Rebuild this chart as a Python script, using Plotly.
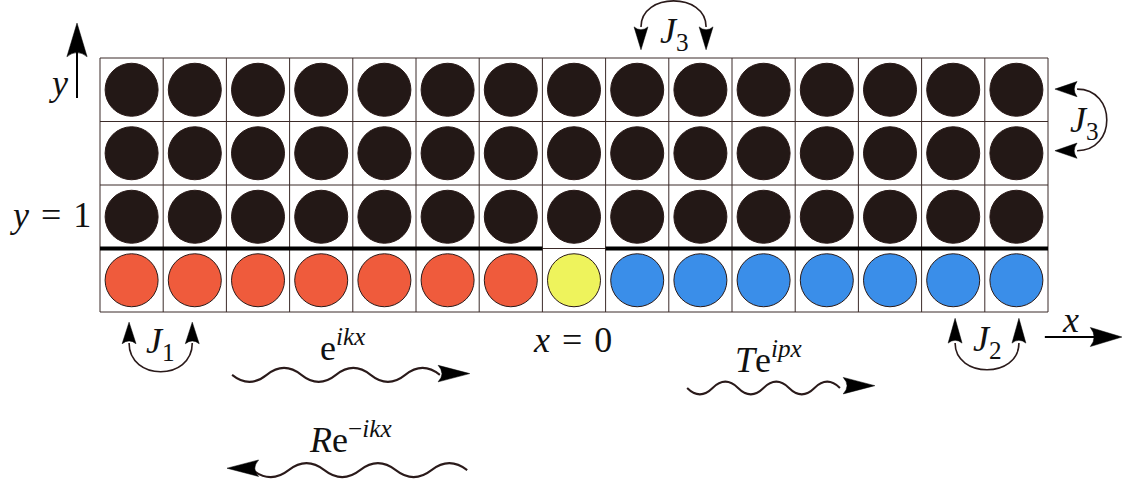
import plotly.graph_objects as go

# ---------------- data ----------------
n_cols = 15
n_rows = 4
# bottom-row site types (lead L, defect D, lead R)
edge_sites = ["L", "L", "L", "L", "L", "L", "L", "D", "R", "R", "R", "R", "R", "R", "R"]
site_colors = {"L": "#ef5b3c", "D": "#eef35c", "R": "#3a8ee9", "bulk": "#231816"}
defect_col = 7

labels_math = {
    "y1": "<i>y</i>\u2004=\u20041",
    "x0": "<i>x</i>\u2004=\u20040",
    "J1": "<i>J</i><sub>1</sub>",
    "J2": "<i>J</i><sub>2</sub>",
    "J3": "<i>J</i><sub>3</sub>",
    "inc": "e<sup><i>ikx</i></sup>",
    "tr": "<i>T</i>e<sup><i>ipx</i></sup>",
    "re": "<i>R</i>e<sup>\u2212<i>ikx</i></sup>",
    "x": "<i>x</i>",
    "y": "<i>y</i>",
}

# ---------------- figure ----------------
W, H = 1126, 488
px_per_x, px_per_y = 63.2, 63.5
grid_left, grid_bottom = 100, 312
xr = [-grid_left / px_per_x, (W - grid_left) / px_per_x]
yr = [(grid_bottom - H) / px_per_y, grid_bottom / px_per_y]

fig = go.Figure()

# circles
xs, ys, cs = [], [], []
for r in range(n_rows):
    for c in range(n_cols):
        xs.append(c + 0.5)
        ys.append(r + 0.5)
        cs.append(site_colors[edge_sites[c]] if r == 0 else site_colors["bulk"])
fig.add_trace(go.Scatter(
    x=xs, y=ys, mode="markers", hoverinfo="skip",
    marker=dict(size=53, color=cs, line=dict(width=1, color="#2a1a18")),
))

shapes = []
grid_col = "#3b2a28"
for c in range(n_cols + 1):
    shapes.append(dict(type="line", x0=c, x1=c, y0=0, y1=n_rows,
                       line=dict(color=grid_col, width=1), layer="below"))
for r in range(n_rows + 1):
    shapes.append(dict(type="line", x0=0, x1=n_cols, y0=r, y1=r,
                       line=dict(color=grid_col, width=1), layer="below"))
# thick boundary line with gap above defect
shapes.append(dict(type="line", x0=0, x1=defect_col, y0=1, y1=1,
                   line=dict(color="black", width=4)))
shapes.append(dict(type="line", x0=defect_col + 1, x1=n_cols, y0=1, y1=1,
                   line=dict(color="black", width=4)))

curve_col = "#2a1a1a"


def head(tx, ty, dx, dy, L=0.36, Wd=0.11, notch=0.09):
    bx, by = tx - dx * L, ty - dy * L
    pxv, pyv = -dy, dx
    nx, ny = tx - dx * (L - notch), ty - dy * (L - notch)
    path = (f"M {tx},{ty} L {bx + pxv * Wd},{by + pyv * Wd} "
            f"Q {nx},{ny} {bx - pxv * Wd},{by - pyv * Wd} Z")
    return dict(type="path", path=path, fillcolor="black",
                line=dict(color="black", width=0.5))


def arc(x0, y0, x1, y1, bx, by):
    k = 4 / 3
    path = (f"M {x0},{y0} C {x0 + bx * k},{y0 + by * k} "
            f"{x1 + bx * k},{y1 + by * k} {x1},{y1}")
    return dict(type="path", path=path, line=dict(color=curve_col, width=1.6))


def wave(x0, yc, half, n, amp, first_down=True):
    s = -1 if first_down else 1
    path = f"M {x0},{yc} Q {x0 + half / 2},{yc + s * 2 * amp} {x0 + half},{yc}"
    for i in range(2, n + 1):
        path += f" T {x0 + half * i},{yc}"
    return dict(type="path", path=path, line=dict(color=curve_col, width=2))


# top J3
shapes.append(arc(8.56, 4.49, 9.59, 4.49, 0, 0.41))
shapes.append(head(8.56, 4.13, 0, -1))
shapes.append(head(9.59, 4.13, 0, -1))
# right J3
shapes.append(arc(15.46, 3.51, 15.46, 2.54, 0.47, 0))
shapes.append(head(15.11, 3.51, -1, 0, L=0.35, Wd=0.12))
shapes.append(head(15.11, 2.54, -1, 0, L=0.35, Wd=0.12))
# J1
shapes.append(arc(0.46, -0.49, 1.46, -0.49, 0, -0.45))
shapes.append(head(0.46, -0.16, 0, 1, L=0.34))
shapes.append(head(1.46, -0.16, 0, 1, L=0.34))
# J2
shapes.append(arc(13.53, -0.49, 14.54, -0.49, 0, -0.42))
shapes.append(head(13.53, -0.10, 0, 1, L=0.39))
shapes.append(head(14.54, -0.10, 0, 1, L=0.39))
# x axis arrow
shapes.append(dict(type="line", x0=14.95, x1=15.8, y0=-0.394, y1=-0.394,
                   line=dict(color="black", width=2)))
shapes.append(head(16.17, -0.394, 1, 0, L=0.5, Wd=0.15, notch=0.12))
# y axis arrow
shapes.append(dict(type="line", x0=-0.364, x1=-0.364, y0=3.37, y1=4.2,
                   line=dict(color="black", width=2)))
shapes.append(head(-0.364, 4.55, 0, 1, L=0.53, Wd=0.16, notch=0.13))
# waves
shapes.append(wave(2.09, -0.99, 0.548, 6, 0.11))
shapes.append(head(5.85, -0.97, 1, 0, L=0.5, Wd=0.13, notch=0.12))
shapes.append(wave(9.29, -1.197, 0.403, 6, 0.10))
shapes.append(head(12.26, -1.16, 1, 0, L=0.5, Wd=0.13, notch=0.12))
shapes.append(wave(2.42, -2.49, 0.565, 6, 0.11))
shapes.append(head(2.01, -2.46, -1, 0, L=0.5, Wd=0.13, notch=0.12))

fig.update_layout(shapes=shapes)

font = dict(family="Liberation Serif", size=36, color="#111")
ann_pos = [
    ("y1", -0.79, 1.53),
    ("x0", 7.48, -0.44),
    ("J1", 0.95, -0.50),
    ("J2", 14.05, -0.47),
    ("J3", 9.09, 4.39),
    ("J3", 15.57, 2.99),
    ("inc", 3.83, -0.52),
    ("tr", 10.57, -0.71),
    ("re", 3.96, -1.97),
    ("x", 15.35, -0.13),
    ("y", -0.66, 3.61),
]
for key, ax_, ay_ in ann_pos:
    fig.add_annotation(x=ax_, y=ay_, text=labels_math[key], showarrow=False,
                       font=font, xanchor="center", yanchor="middle")

fig.update_layout(
    width=W, height=H, margin=dict(l=0, r=0, t=0, b=0),
    paper_bgcolor="white", plot_bgcolor="white", showlegend=False,
    xaxis=dict(range=xr, visible=False, fixedrange=True),
    yaxis=dict(range=yr, visible=False, fixedrange=True),
)
fig.write_html("out.html", config={"displayModeBar": False},
               post_script="document.body.style.margin='0';")
